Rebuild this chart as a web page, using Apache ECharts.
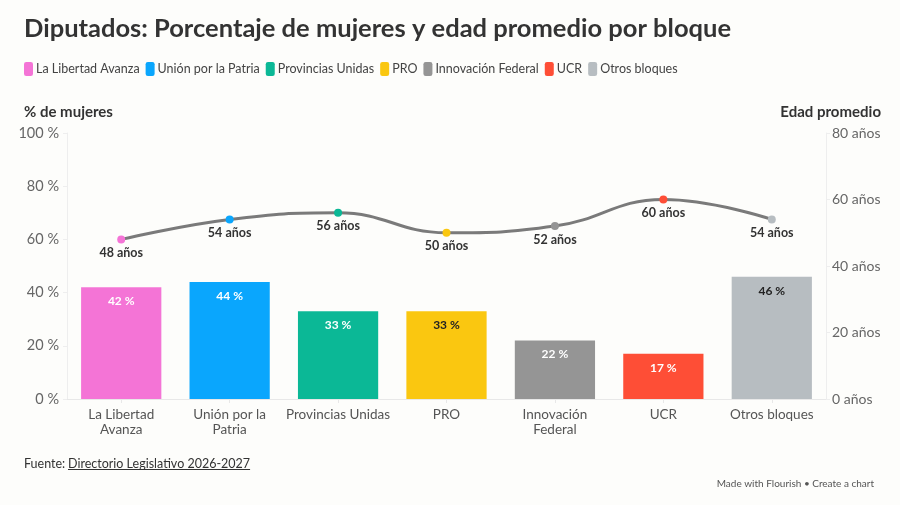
<!DOCTYPE html>
<html>
<head>
<meta charset="utf-8">
<script src="https://cdn.jsdelivr.net/npm/echarts@6/dist/echarts.min.js"></script>
<style>
  html, body { margin: 0; padding: 0; background: #fdfdfb; }
  #chart { width: 900px; height: 505px; }
</style>
</head>
<body>
<div id="chart"></div>
<script>
const bloques = ['La Libertad Avanza', 'Unión por la Patria', 'Provincias Unidas', 'PRO', 'Innovación Federal', 'UCR', 'Otros bloques'];
const axisLabels = ['La Libertad\nAvanza', 'Unión por la\nPatria', 'Provincias Unidas', 'PRO', 'Innovación\nFederal', 'UCR', 'Otros bloques'];
const pctMujeres = [42, 44, 33, 33, 22, 17, 46];
const edadPromedio = [48, 54, 56, 50, 52, 60, 54];
const colores = ['#f474d6', '#0aa6fd', '#0bb896', '#fac710', '#959595', '#fe4e36', '#b7bdc1'];
const labelColores = ['#fff', '#fff', '#fff', '#222', '#fff', '#fff', '#222'];

const FONT = 'Lato, sans-serif';
const chart = echarts.init(document.getElementById('chart'));

// width of the source link, for the underline
const ctx = document.createElement('canvas').getContext('2d');
ctx.font = '12.5px Lato';
const fuenteTexto = 'Directorio Legislativo 2026-2027';
const fuenteAncho = ctx.measureText(fuenteTexto).width;

// one stacked bar series per bloque, so the legend works
const barSeries = bloques.map((name, i) => ({
  name: name,
  type: 'bar',
  stack: 'mujeres',
  barWidth: '74%',
  data: pctMujeres.map((v, j) => (j === i ? v : '-')),
  itemStyle: { color: colores[i] },
  label: {
    show: true,
    position: 'insideTop',
    distance: 8,
    formatter: '{c} %',
    color: labelColores[i],
    fontFamily: FONT,
    fontWeight: 'bold',
    fontSize: 12
  }
}));

chart.setOption({
  backgroundColor: '#fdfdfb',
  animation: false,
  textStyle: { fontFamily: FONT },
  title: [
    { text: 'Diputados: Porcentaje de mujeres y edad promedio por bloque', left: 19, top: 11,
      textStyle: { fontFamily: FONT, fontSize: 25.5, fontWeight: 'bold', color: '#333' } },
    { text: '% de mujeres', left: 19, top: 100,
      textStyle: { fontFamily: FONT, fontSize: 15, fontWeight: 'bold', color: '#333' } },
    { text: 'Edad promedio', right: 14, top: 100,
      textStyle: { fontFamily: FONT, fontSize: 15, fontWeight: 'bold', color: '#333' } },
    { text: 'Fuente:', left: 19, top: 452,
      textStyle: { fontFamily: FONT, fontSize: 12.5, fontWeight: 'normal', color: '#333' } },
    { text: fuenteTexto, left: 63, top: 452,
      textStyle: { fontFamily: FONT, fontSize: 12.5, fontWeight: 'normal', color: '#333' } },
    { text: 'Made with Flourish • Create a chart', right: 21, top: 474,
      textStyle: { fontFamily: FONT, fontSize: 10, fontWeight: 'normal', color: '#555' } }
  ],
  graphic: [
    { type: 'line', shape: { x1: 68, y1: 469.5, x2: 68 + fuenteAncho, y2: 469.5 }, style: { stroke: '#333', lineWidth: 1 } }
  ],
  legend: {
    data: bloques,
    left: 19,
    top: 57,
    icon: 'roundRect',
    itemWidth: 9,
    itemHeight: 14,
    itemGap: 6,
    textStyle: { fontFamily: FONT, fontSize: 12.5, color: '#444', padding: [0, 0, 0, -2] }
  },
  grid: { left: 67, right: 74, top: 133, bottom: 106 },
  xAxis: {
    type: 'category',
    data: axisLabels,
    axisLine: { lineStyle: { color: '#e8e8e8' } },
    axisTick: { show: true, alignWithLabel: true, length: 4, lineStyle: { color: '#e8e8e8' } },
    axisLabel: { color: '#555', fontFamily: FONT, fontSize: 13.5, lineHeight: 15, margin: 8, interval: 0 }
  },
  yAxis: [
    {
      type: 'value', min: 0, max: 100, interval: 20,
      axisLine: { show: true, lineStyle: { color: '#eeeeee' } },
      axisTick: { show: true, length: 4, lineStyle: { color: '#eeeeee' } },
      splitLine: { show: false },
      axisLabel: { formatter: '{value} %', color: '#666', fontFamily: FONT, fontSize: 14.5, margin: 8 }
    },
    {
      type: 'value', min: 0, max: 80, interval: 20,
      axisLine: { show: true, lineStyle: { color: '#eeeeee' } },
      axisTick: { show: true, length: 4, lineStyle: { color: '#eeeeee' } },
      splitLine: { show: false },
      axisLabel: { formatter: '{value} años', color: '#666', fontFamily: FONT, fontSize: 14, margin: 6 }
    }
  ],
  series: barSeries.concat([{
    name: 'Edad promedio',
    type: 'line',
    yAxisIndex: 1,
    smooth: 0.45,
    symbol: 'circle',
    symbolSize: 8,
    data: edadPromedio.map((v, i) => ({ value: v, itemStyle: { color: colores[i] } })),
    lineStyle: { color: '#7a7a7a', width: 3 },
    label: {
      show: true,
      position: 'bottom',
      distance: 3,
      formatter: '{c} años',
      color: '#333',
      fontFamily: FONT,
      fontSize: 12.5,
      fontWeight: 'bold'
    },
    z: 5
  }])
});
</script>
</body>
</html>
